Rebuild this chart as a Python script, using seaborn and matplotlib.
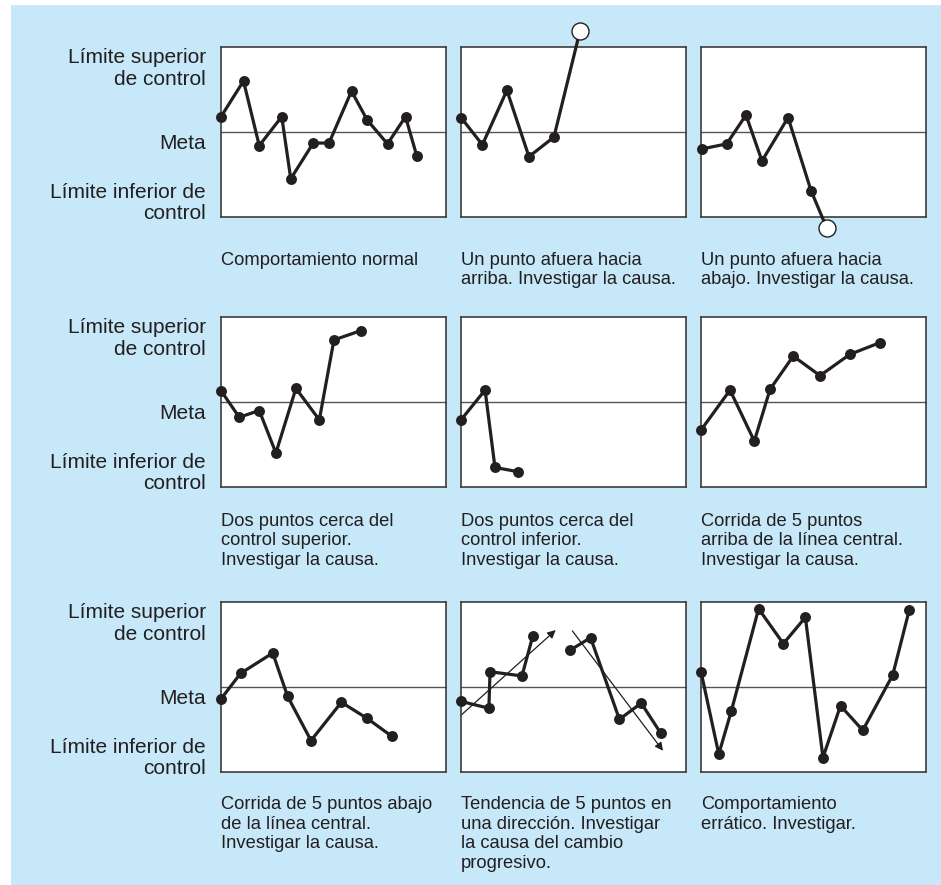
import matplotlib
matplotlib.use("Agg")
import matplotlib.pyplot as plt
import seaborn as sns
from matplotlib.patches import Rectangle

sns.set_style("white")
plt.rcParams["font.family"] = ["Liberation Sans", "DejaVu Sans"]

# =====================================================
# DATA  (x: 0-100 across panel, y: -100 LIC, 0 meta, 100 LSC)
# =====================================================
x_normal = [0, 10, 17, 27, 31, 41, 48, 58, 65, 74, 82, 87]
y_normal = [18, 60, -16, 18, -55, -13, -13, 48, 14, -14, 18, -28]

x_up = [0, 9.5, 20.4, 30.2, 41.3, 52.9]
y_up = [17, -15, 49, -29, -6, 119]

x_down = [0.3, 11.4, 20, 27.1, 38.7, 48.9, 55.9]
y_down = [-20, -14, 20, -34, 17, -69, -113]

x_near_top = [0.1, 8.1, 17, 24.4, 33.3, 43.7, 50.2, 62.2]
y_near_top = [13, -18, -10, -60, 16, -21, 73, 84]

x_near_low = [0, 10.7, 15.1, 25.3]
y_near_low = [-21, 14, -77, -82]

x_run_up = [0, 12.9, 23.7, 30.7, 41, 52.9, 66.1, 79.7]
y_run_up = [-33, 14, -46, 15, 54, 31, 56, 70]

x_run_down = [0, 8.7, 23, 29.6, 40, 53.5, 65, 75.9]
y_run_down = [-14, 16, 40, -11, -63, -18, -37, -58]

x_trend_a = [0.1, 12.4, 12.9, 27.1, 31.9]
y_trend_a = [-17, -25, 18, 13, 60]
x_trend_b = [48.3, 57.6, 70.4, 80.1, 88.7]
y_trend_b = [43, 58, -38, -19, -54]
arrow_a = [(0.1, -33), (42.1, 67)]
arrow_b = [(49.5, 66), (89.8, -75)]

x_erratic = [0, 7.9, 13.5, 25.6, 36.6, 46.4, 54.2, 62, 71.9, 85.2, 92.6]
y_erratic = [18, -79, -28, 92, 51, 82, -83, -22, -51, 14, 91]

captions = [
    "Comportamiento normal",
    "Un punto afuera hacia\narriba. Investigar la causa.",
    "Un punto afuera hacia\nabajo. Investigar la causa.",
    "Dos puntos cerca del\ncontrol superior.\nInvestigar la causa.",
    "Dos puntos cerca del\ncontrol inferior.\nInvestigar la causa.",
    "Corrida de 5 puntos\narriba de la línea central.\nInvestigar la causa.",
    "Corrida de 5 puntos abajo\nde la línea central.\nInvestigar la causa.",
    "Tendencia de 5 puntos en\nuna dirección. Investigar\nla causa del cambio\nprogresivo.",
    "Comportamiento\nerrático. Investigar.",
]

row_labels = ["Límite superior\nde control", "Meta", "Límite inferior de\ncontrol"]

# =====================================================
# FIGURE
# =====================================================
W, H = 941, 885
fig = plt.figure(figsize=(W / 100, H / 100), dpi=100, facecolor="white")
fig.patches.append(Rectangle((11 / W, 0), 1, 1 - 5 / H, transform=fig.transFigure,
                             facecolor="#c6e8f8", edgecolor="none", zorder=-10))

ink = "#231f20"
col_left = [221, 461, 701]
row_top = [47, 317, 602]
pw, ph = 225, 170
cap_off = [-0.205, -0.15, -0.142]

axes = []
for r in range(3):
    for c in range(3):
        ax = fig.add_axes([col_left[c] / W, 1 - (row_top[r] + ph) / H, pw / W, ph / H])
        ax.set_facecolor("white")
        ax.set_xlim(0, 100)
        ax.set_ylim(-100, 100)
        ax.set_xticks([])
        ax.set_yticks([])
        for s in ax.spines.values():
            s.set_color("#3c3c3c")
            s.set_linewidth(1.2)
        ax.axhline(0, color="#555555", lw=1.0, zorder=1)
        ax.text(0.0, cap_off[r], captions[r * 3 + c], transform=ax.transAxes,
                ha="left", va="top", fontsize=13.2, color=ink, linespacing=1.2)
        axes.append(ax)


def series(ax, xs, ys, open_last=False):
    sns.lineplot(x=xs, y=ys, ax=ax, color=ink, lw=2.3, sort=False,
                 estimator=None, zorder=3)
    for ln in ax.lines:
        ln.set_clip_on(False)
    fx = xs[:-1] if open_last else xs
    fy = ys[:-1] if open_last else ys
    sns.scatterplot(x=fx, y=fy, ax=ax, color=ink, s=62, edgecolor=ink,
                    linewidth=0, zorder=4, clip_on=False)
    if open_last:
        sns.scatterplot(x=[xs[-1]], y=[ys[-1]], ax=ax, color="white", s=150,
                        edgecolor=ink, linewidth=1.0, zorder=5, clip_on=False)


series(axes[0], x_normal, y_normal)
series(axes[1], x_up, y_up, open_last=True)
series(axes[2], x_down, y_down, open_last=True)
series(axes[3], x_near_top, y_near_top)
series(axes[4], x_near_low, y_near_low)
series(axes[5], x_run_up, y_run_up)
series(axes[6], x_run_down, y_run_down)
series(axes[7], x_trend_a, y_trend_a)
series(axes[7], x_trend_b, y_trend_b)
series(axes[8], x_erratic, y_erratic)

for start, end in [arrow_a, arrow_b]:
    axes[7].annotate("", xy=end, xytext=start,
                     arrowprops=dict(arrowstyle="-|>", lw=0.9, color=ink,
                                     mutation_scale=12, shrinkA=0, shrinkB=0),
                     zorder=2)

# row labels on the left
for r in range(3):
    ax = axes[r * 3]
    for lab, yy in zip(row_labels, [0.873, 0.435, 0.083]):
        ax.text(-0.067, yy, lab, transform=ax.transAxes, ha="right", va="center",
                fontsize=15, color=ink, linespacing=1.16)

fig.savefig("out.png", dpi=100, facecolor="white")
